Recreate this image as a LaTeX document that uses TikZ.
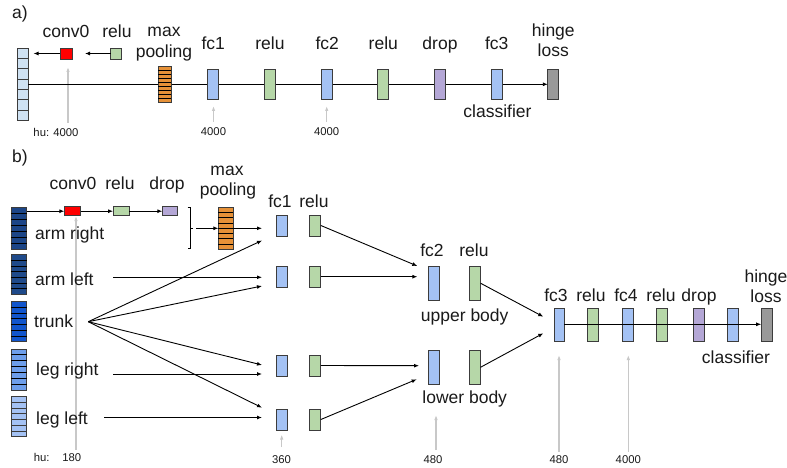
\documentclass[tikz,border=0pt]{standalone}
\usepackage{fontspec}
\setmainfont{Liberation Sans}
\usetikzlibrary{arrows.meta,calc}

\definecolor{txt}{HTML}{1A1A1A}
\definecolor{edge}{HTML}{3C3C3C}
\definecolor{inlight}{HTML}{CFE2F3}
\definecolor{convred}{HTML}{FF0000}
\definecolor{relugreen}{HTML}{B6D7A8}
\definecolor{poolorange}{HTML}{E69138}
\definecolor{fcblue}{HTML}{A4C2F4}
\definecolor{droppurple}{HTML}{B4A7D6}
\definecolor{lossgray}{HTML}{999999}
\definecolor{armR}{HTML}{1C4587}
\definecolor{armL}{HTML}{1F4A8A}
\definecolor{trunkc}{HTML}{1155CC}
\definecolor{legR}{HTML}{6D9EEB}
\definecolor{legL}{HTML}{A4C2F4}
\definecolor{hugray}{HTML}{C8C8C8}

\tikzset{
  lbl/.style={font=\fontsize{17.5pt}{20pt}\selectfont, inner sep=0pt, text height=12.6pt, text depth=3.6pt, text=txt},
  small/.style={font=\fontsize{11.3pt}{13pt}\selectfont, inner sep=0pt, text height=8.2pt, text depth=0pt, text=txt},
  layer/.style={draw=edge, line width=0.9pt, inner sep=0pt, outer sep=0pt},
  fcbox/.style={layer, fill=fcblue, minimum width=11pt},
  relubox/.style={layer, fill=relugreen, minimum width=11pt},
  dropbox/.style={layer, fill=droppurple, minimum width=11pt},
  lossbox/.style={layer, fill=lossgray, minimum width=11pt},
  conn/.style={line width=0.9pt, draw=black, -{Latex[length=5pt,width=4pt]}},
  plain/.style={line width=0.9pt, draw=black},
  hu/.style={draw=hugray, line width=1.4pt, -{Latex[length=5pt,width=3.5pt]}},
}

% horizontal dividers that split a layer node into equal cells
\newcommand\cellrules[3][edge]{%
  \foreach \k in {1,...,#3}{%
    \draw[#1, line width=0.8pt]
      ($(#2.north west)!{\k/(#3+1)}!(#2.south west)$) --
      ($(#2.north east)!{\k/(#3+1)}!(#2.south east)$);
  }%
}

\begin{document}
\begin{tikzpicture}[x=1pt, y=-1pt]
\useasboundingbox (0,0) rectangle (787,468);
\fill[white] (0,0) rectangle (787,468);

%% ---------------- a) single-stream network ----------------
\node[lbl, anchor=west] (a-tag) at (12,14) {a)};

% hidden-unit counts
\node[small] (a-hu0) at (56,132) {hu: 4000};
\node[small] (a-hu1) at (213.5,131) {4000};
\node[small] (a-hu2) at (326.7,131) {4000};
\coordinate (a-hu0-top) at (68,67);
\coordinate (a-hu1-top) at (213.5,106);
\coordinate (a-hu2-top) at (326.7,106);
\draw[hu] (68,123) -- (a-hu0-top);
\draw[hu] (213.5,122) -- (a-hu1-top);
\draw[hu] (326.7,122) -- (a-hu2-top);

% main flow line, drawn beneath the layers
\node[layer, fill=inlight, minimum width=10.5pt, minimum height=72pt] (a-in) at (23,84.3) {};
\node[lossbox, minimum height=30pt] (a-loss) at (553.3,84.3) {};
\draw[conn] (a-in.east) -- (a-loss.west);
\cellrules{a-in}{6}

\node[layer, fill=convred, minimum width=12pt, minimum height=11pt] (a-conv) at (66,53.5) {};
\node[relubox, minimum height=11pt] (a-relu0) at (116,53.5) {};
\coordinate (a-conv-end) at (33.5,53.5);
\coordinate (a-relu0-end) at (85,53.5);
\draw[conn] (a-conv.west) -- (a-conv-end);
\draw[conn] (a-relu0.west) -- (a-relu0-end);
\node[lbl] (a-conv-l) at (66,33) {conv0};
\node[lbl] (a-relu0-l) at (117,33) {relu};

\node[layer, fill=poolorange, minimum width=13pt, minimum height=36pt] (a-pool) at (164.5,84.3) {};
\cellrules[black]{a-pool}{8}
\node[lbl] (a-pool-l1) at (164,32) {max};
\node[lbl] (a-pool-l2) at (164,53) {pooling};

\node[fcbox, minimum height=30pt] (a-fc1) at (213.3,84.3) {};
\node[relubox, minimum height=30pt] (a-relu1) at (270,84.3) {};
\node[fcbox, minimum height=30pt] (a-fc2) at (327.2,84.3) {};
\node[relubox, minimum height=30pt] (a-relu2) at (383.3,84.3) {};
\node[dropbox, minimum height=30pt] (a-drop) at (440,84.3) {};
\node[fcbox, minimum height=30pt] (a-fc3) at (496.8,84.3) {};

\node[lbl] at (213.3,45) {fc1};
\node[lbl] at (270,45) {relu};
\node[lbl] at (327.2,45) {fc2};
\node[lbl] at (383.3,45) {relu};
\node[lbl] at (440,45) {drop};
\node[lbl] at (496.8,45) {fc3};
\node[lbl] at (553.3,32) {hinge};
\node[lbl] at (553.3,52) {loss};
\node[lbl] (a-cls) at (497.5,113) {classifier};

%% ---------------- b) body-part network ----------------
\node[lbl, anchor=west] (b-tag) at (12,158) {b)};

% hidden-unit counts, drawn first so they sit behind everything
\node[small] (b-hu) at (41.7,457) {hu:};
\node[small] (b-hu0) at (71.7,457) {180};
\node[small] (b-hu1) at (281.5,459) {360};
\node[small] (b-hu2) at (433,459) {480};
\node[small] (b-hu3) at (559,459) {480};
\node[small] (b-hu4) at (628.3,459) {4000};
\coordinate (g0) at (76,216);
\coordinate (g1) at (281.7,434.5);
\coordinate (g2) at (436,415);
\coordinate (g3) at (559,355);
\coordinate (g4) at (628.3,355);
\draw[hu] (76,450) -- (g0);
\draw[hu] (281.7,447) -- (g1);
\draw[hu] (436,450) -- (g2);
\draw[hu] (559,451.7) -- (g3);
\draw[hu] (628.3,451.7) -- (g4);

% input stacks, one per body part
\node[layer, fill=armR, minimum width=15.7pt, minimum height=42pt] (in-ar) at (18.8,228.3) {};
\node[layer, fill=armL, minimum width=15.7pt, minimum height=39.5pt] (in-al) at (18.8,274.5) {};
\node[layer, fill=trunkc, minimum width=15.7pt, minimum height=40pt] (in-tr) at (18.8,321.7) {};
\node[layer, fill=legR, minimum width=15.7pt, minimum height=41pt] (in-lr) at (18.8,369.5) {};
\node[layer, fill=legL, minimum width=15.7pt, minimum height=40pt] (in-ll) at (18.8,416.7) {};
\cellrules[black]{in-ar}{6}
\cellrules[black]{in-al}{6}
\cellrules[black]{in-tr}{6}
\cellrules[black]{in-lr}{6}
\cellrules[edge]{in-ll}{6}

\node[lbl, anchor=west] (t-ar) at (35,235) {arm right};
\node[lbl, anchor=west] (t-al) at (35,280.7) {arm left};
\node[lbl, anchor=west] (t-tr) at (34,323) {trunk};
\node[lbl, anchor=west] (t-lr) at (36,371) {leg right};
\node[lbl, anchor=west] (t-ll) at (36,420) {leg left};

% arm-right branch: conv0, relu, drop, max pooling
\node[layer, fill=convred, minimum width=16.4pt, minimum height=9pt] (b-conv) at (72.5,211.2) {};
\node[relubox, minimum width=16.3pt, minimum height=9pt] (b-relu0) at (121.2,211.2) {};
\node[dropbox, minimum width=15.4pt, minimum height=9pt] (b-drop0) at (170,211.2) {};
\draw[conn] (in-ar.east |- b-conv.west) -- (b-conv.west);
\draw[conn] (b-conv.east) -- (b-relu0.west);
\draw[conn] (b-relu0.east) -- (b-drop0.west);
\node[lbl] at (73,185) {conv0};
\node[lbl] at (120,185) {relu};
\node[lbl] at (167,185) {drop};
\node[lbl] at (227,171) {max};
\node[lbl] at (228,191) {pooling};

\draw[plain, line width=0.8pt] (187.7,207.3) -- (190.7,207.3) -- (190.7,248.3) -- (187.7,248.3);
\draw[plain, line width=0.8pt] (190.7,228.3) -- (193,228.3);
\node[layer, fill=poolorange, minimum width=15pt, minimum height=42pt] (b-pool) at (225.8,228.3) {};
\cellrules[black]{b-pool}{7}
\coordinate (b-brk) at (196,228.3);
\draw[conn] (b-brk) -- (b-pool.west);

% first fc/relu stage, one row per body part
\foreach \r/\y in {1/225.5, 2/276.7, 3/365.5, 4/419.5}{
  \node[fcbox, minimum width=11.3pt, minimum height=21pt] (fc1-\r) at (281.8,\y) {};
  \node[relubox, minimum width=11.3pt, minimum height=21pt] (r1-\r) at (315.2,\y) {};
}
\node[lbl] at (280,203.3) {fc1};
\node[lbl] at (314,203.3) {relu};

\coordinate (e1a) at (262,228.3);
\coordinate (e1b) at (262,240.5);
\coordinate (e2a) at (262,277.3);
\coordinate (e2b) at (262,286);
\coordinate (e3a) at (262,365);
\coordinate (e3b) at (262,374);
\coordinate (e4a) at (262,407.7);
\coordinate (e4b) at (262,417.5);
\coordinate (s-al) at (113,277.3);
\coordinate (s-lr) at (113.3,374);
\coordinate (s-ll) at (104.3,417.5);
\coordinate (fan) at (88.3,321.7);

\draw[conn] (b-pool.east |- e1a) -- (e1a);
\draw[conn] (s-al) -- (e2a);
\draw[conn] (s-lr) -- (e3b);
\draw[conn] (s-ll) -- (e4b);
\draw[conn] (fan) -- (e1b);
\draw[conn] (fan) -- (e2b);
\draw[conn] (fan) -- (e3a);
\draw[conn] (fan) -- (e4a);

% second stage: upper and lower body
\node[fcbox, minimum height=33.3pt] (fc2-u) at (433.8,283.3) {};
\node[relubox, minimum height=33.3pt] (r2-u) at (475.2,283.3) {};
\node[fcbox, minimum height=33.3pt] (fc2-l) at (433.5,367.3) {};
\node[relubox, minimum height=33.3pt] (r2-l) at (475,367.3) {};
\node[lbl] at (432,252.3) {fc2};
\node[lbl] at (474,252.3) {relu};
\node[lbl] (t-up) at (464.7,316.7) {upper body};
\node[lbl] (t-lo) at (464.7,399.3) {lower body};

\coordinate (u1) at (417.3,266);
\coordinate (u2) at (417.3,276.7);
\coordinate (l1) at (419,365.7);
\coordinate (l2) at (416.7,379.3);
\draw[conn] (r1-1.east) -- (u1);
\draw[conn] (r1-2.east) -- (u2);
\draw[conn] (r1-3.east) -- (l1);
\draw[conn] (r1-4.east) -- (l2);

% final stage, with the flow line drawn over the layers
\node[fcbox, minimum width=10.5pt, minimum height=33.4pt] (fc3) at (559.2,325) {};
\node[relubox, minimum height=33.4pt] (r3) at (592.8,325) {};
\node[fcbox, minimum height=33.4pt] (fc4) at (627.8,325) {};
\node[relubox, minimum height=33.4pt] (r4) at (662.2,325) {};
\node[dropbox, minimum height=33.4pt] (d4) at (698.8,325) {};
\node[fcbox, minimum height=33.4pt] (cls) at (733.4,325) {};
\node[lossbox, minimum height=33.4pt] (loss) at (766.7,325) {};
\draw[conn] (fc3.east |- 0,324.3) -- (loss.west |- 0,324.3);

\coordinate (f1) at (543.3,316.7);
\coordinate (f2) at (543.3,333.3);
\draw[conn] (r2-u.east) -- (f1);
\draw[conn] (r2-l.east) -- (f2);

\node[lbl] at (556,296.7) {fc3};
\node[lbl] at (591,296.7) {relu};
\node[lbl] at (626,296.7) {fc4};
\node[lbl] at (661,296.7) {relu};
\node[lbl] at (699,296.7) {drop};
\node[lbl] at (766,278) {hinge};
\node[lbl] at (766,298) {loss};
\node[lbl] at (736,359.3) {classifier};
\end{tikzpicture}
\end{document}
